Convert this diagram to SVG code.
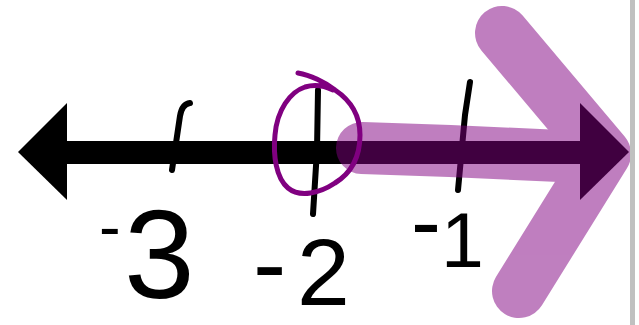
<svg xmlns="http://www.w3.org/2000/svg" width="639" height="325" viewBox="0 0 639 325">
<style>
.tick{fill:none;stroke:#000;stroke-width:6;stroke-linecap:round;stroke-linejoin:round}
.num{font-family:"Liberation Sans",Arial,sans-serif;fill:#000}
.hl{fill:none;stroke:#800080;stroke-linecap:round;stroke-linejoin:round}
</style>
<rect width="639" height="325" fill="#fff"/>
<g id="axis">
<rect x="66" y="141" width="515" height="23" fill="#000"/>
<polygon points="18,152 67,103 67,200" fill="#000"/>
<polygon points="629,152 580,103 580,200" fill="#000"/>
</g>
<g id="ticks">
<path class="tick" d="M190,103 Q182,104 180,116 L172,170"/>
<path class="tick" d="M318,90 L317,150 L313,214"/>
<path class="tick" d="M470,82 L465,115 L458,190"/>
</g>
<g id="labels">
<text class="num"><tspan x="99" y="249" font-size="65">-</tspan><tspan x="124" y="298" font-size="127">3</tspan></text>
<text class="num"><tspan x="253" y="298" font-size="100">-</tspan><tspan x="297" y="305" font-size="95">2</tspan></text>
<text class="num"><tspan x="411" y="253" font-size="90">-</tspan><tspan x="441" y="267" font-size="77">1</tspan></text>
</g>
<g id="solution" opacity="0.5">
<path class="hl" stroke-width="52" d="M362,148 L450,151 L560,156 L604,154"/>
<path class="hl" stroke-width="54" d="M502,33 L604,154 L519,291"/>
</g>
<g id="open-circle">
<path d="M298,73 C310,75 325,82 335,90 C350,100 360,115 360,135 C360,160 348,175 335,183 C320,193 300,198 288,188 C276,178 273,155 275,135 C277,110 290,92 305,87 C315,84 325,86 333,90" fill="none" stroke="#800080" stroke-width="5" stroke-linecap="round" stroke-linejoin="round"/>
</g>
<rect x="630" y="0" width="5" height="325" fill="#c0c0c0"/>
</svg>
